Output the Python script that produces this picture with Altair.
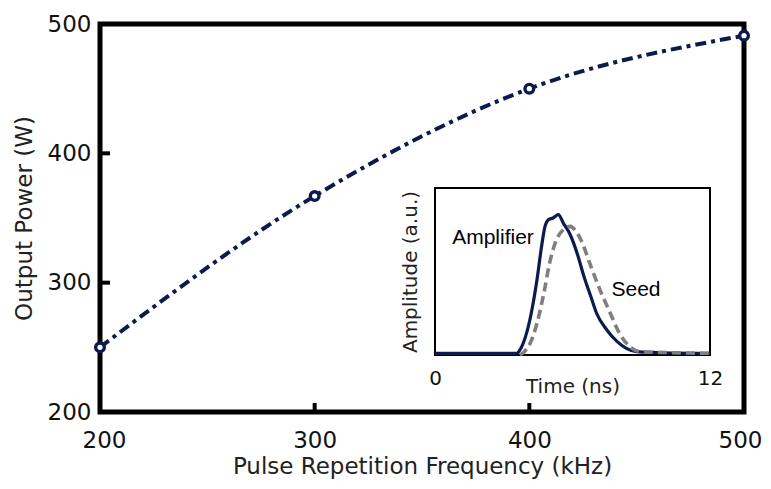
import altair as alt
import pandas as pd

# ---- main data ----
freq = [200, 300, 400, 500]
power = [250, 367, 450, 491]
x_ticks = [200, 300, 400, 500]
y_ticks = [200, 300, 400, 500]
inner_ticks = [300, 400]

# ---- inset data (pulse shapes) ----
amp_t = [0, 3.55, 3.75, 3.95, 4.2, 4.45, 4.65, 4.8, 4.95, 5.15, 5.38, 5.6, 5.9,
         6.2, 6.5, 6.8, 7.05, 7.5, 7.95, 8.35, 8.8, 9.7, 12]
amp_a = [0.01, 0.01, 0.04, 0.11, 0.25, 0.45, 0.65, 0.77, 0.81, 0.82, 0.84, 0.79, 0.72,
         0.61, 0.47, 0.35, 0.25, 0.15, 0.08, 0.04, 0.02, 0.015, 0.01]
seed_t = [3.7, 3.9, 4.15, 4.45, 4.75, 5.0, 5.3, 5.6, 5.9, 6.1, 6.4, 6.75, 7.2,
          7.65, 8.05, 8.5, 8.95, 10, 12]
seed_a = [0.0, 0.02, 0.07, 0.19, 0.37, 0.55, 0.69, 0.75, 0.77, 0.75, 0.68, 0.55, 0.39,
          0.25, 0.13, 0.05, 0.02, 0.015, 0.01]
inset_t_ticks = [0, 12]
inset_t_domain = [0, 12]
inset_a_domain = [0, 1]

NAVY = "#0c1a4e"
GRAY = "#7f7f7f"
FONT = "DejaVu Sans"
W, H = 644, 388

main_df = pd.DataFrame({"freq": freq, "power": power})
xtick_df = pd.DataFrame({"freq": inner_ticks})
ytick_df = pd.DataFrame({"power": inner_ticks})

xs = alt.Scale(domain=[200, 500], nice=False, zero=False)
ys = alt.Scale(domain=[200, 500], nice=False, zero=False)

X_AX = alt.Axis(values=x_ticks, format="d", domain=False, ticks=False, grid=False,
                labelFlush=True, labelFlushOffset=18, labelOverlap=False,
                labelFont=FONT, labelFontSize=23, labelFontWeight="normal",
                labelColor="#111111", labelPadding=17,
                title="Pulse Repetition Frequency (kHz)", titleFont=FONT, titleFontSize=23,
                titleFontWeight="normal", titleColor="#222222", titlePadding=3)
Y_AX = alt.Axis(values=y_ticks, format="d", domain=False, ticks=False, grid=False,
                labelFlush=False, labelOverlap=False,
                labelFont=FONT, labelFontSize=23, labelFontWeight="normal",
                labelColor="#111111", labelPadding=9,
                title="Output Power (W)", titleFont=FONT, titleFontSize=23,
                titleFontWeight="normal", titleColor="#222222", titlePadding=11)

line = alt.Chart(main_df).mark_line(
    color=NAVY, strokeWidth=4, strokeDash=[11, 5, 4, 5], interpolate="monotone"
).encode(
    x=alt.X("freq:Q", scale=xs, axis=X_AX),
    y=alt.Y("power:Q", scale=ys, axis=Y_AX),
)
points = alt.Chart(main_df).mark_point(
    filled=False, fill="white", color=NAVY, size=75, strokeWidth=3.4, opacity=1
).encode(
    x=alt.X("freq:Q", scale=xs, axis=X_AX),
    y=alt.Y("power:Q", scale=ys, axis=Y_AX),
)
xticks_in = alt.Chart(xtick_df).mark_rule(color="black", strokeWidth=4).encode(
    x=alt.X("freq:Q", scale=xs, axis=X_AX),
    y=alt.value(H), y2=alt.value(H - 9),
)
yticks_in = alt.Chart(ytick_df).mark_rule(color="black", strokeWidth=4).encode(
    y=alt.Y("power:Q", scale=ys, axis=Y_AX),
    x=alt.value(0), x2=alt.value(10),
)
main = alt.layer(line, points, xticks_in, yticks_in)

# ---- inset ----
IX0, IX1, IY0, IY1 = 335, 610, 331, 164
ts = alt.Scale(domain=inset_t_domain, range=[IX0, IX1], nice=False, zero=False)
as_ = alt.Scale(domain=inset_a_domain, range=[IY0, IY1], nice=False, zero=False)

T_AX = alt.Axis(orient="bottom", offset=IY0 - H, values=inset_t_ticks, format="d",
                labelFlush=False, domain=False, ticks=False,
                grid=False, labelFont=FONT, labelFontSize=20, labelColor="#111111",
                labelPadding=13, title="Time (ns)", titleFont=FONT, titleFontSize=20,
                titleFontWeight="normal", titleColor="#222222", titleY=31,
                titleBaseline="middle")
A_AX = alt.Axis(orient="left", offset=-IX0, labels=False, domain=False, ticks=False,
                grid=False, title="Amplitude (a.u.)", titleFont=FONT, titleFontSize=20,
                titleFontWeight="normal", titleColor="#222222", titleX=-25,
                titleBaseline="middle")

frame_df = pd.DataFrame({"t0": [inset_t_domain[0]], "t1": [inset_t_domain[1]],
                         "a0": [inset_a_domain[0]], "a1": [inset_a_domain[1]]})
frame = alt.Chart(frame_df).mark_rect(fill="white", stroke="black", strokeWidth=2).encode(
    x=alt.X("t0:Q", scale=ts, axis=T_AX), x2="t1",
    y=alt.Y("a0:Q", scale=as_, axis=A_AX), y2="a1",
)
amp = alt.Chart(pd.DataFrame({"t": amp_t, "a": amp_a})).mark_line(
    color=NAVY, strokeWidth=3.2, interpolate="monotone"
).encode(
    x=alt.X("t:Q", scale=ts, axis=T_AX),
    y=alt.Y("a:Q", scale=as_, axis=A_AX),
)
seed = alt.Chart(pd.DataFrame({"t": seed_t, "a": seed_a})).mark_line(
    color=GRAY, strokeWidth=3.6, strokeDash=[9, 5], interpolate="monotone"
).encode(
    x=alt.X("t:Q", scale=ts, axis=T_AX),
    y=alt.Y("a:Q", scale=as_, axis=A_AX),
)
amp_lbl = alt.Chart(pd.DataFrame({"l": ["Amplifier"]})).mark_text(
    font="Liberation Sans", fontSize=21, color="black", align="center", baseline="middle"
).encode(x=alt.datum(2.53), y=alt.datum(0.70), text="l:N")
seed_lbl = alt.Chart(pd.DataFrame({"l": ["Seed"]})).mark_text(
    font="Liberation Sans", fontSize=21, color="black", align="center", baseline="middle"
).encode(x=alt.datum(8.77), y=alt.datum(0.39), text="l:N")
inset = alt.layer(frame, amp, seed, amp_lbl, seed_lbl)

chart = alt.layer(main, inset).resolve_scale(
    x="independent", y="independent"
).properties(
    width=W, height=H,
    autosize=alt.AutoSizeParams(type="none"),
    padding={"left": 92, "top": 16, "right": 19, "bottom": 69},
    background="white",
).configure_view(stroke="black", strokeWidth=5)

chart.save("out.html", embed_options={"renderer": "svg", "actions": False})
